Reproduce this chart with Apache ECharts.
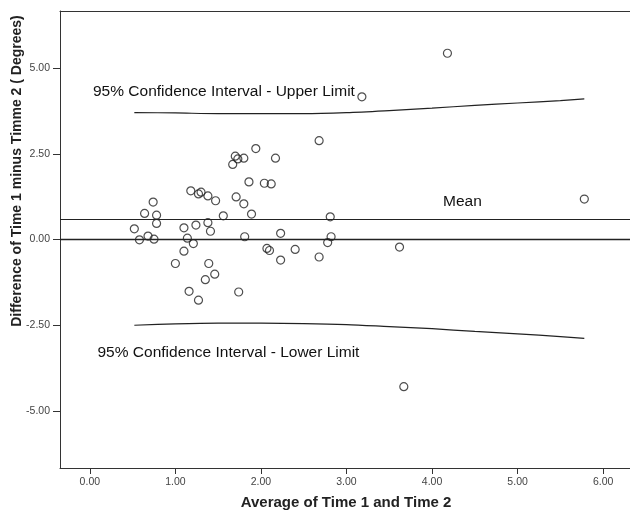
<!DOCTYPE html>
<html>
<head>
<meta charset="utf-8">
<script src="https://cdn.jsdelivr.net/npm/echarts@6/dist/echarts.min.js"></script>
<style>
html,body{margin:0;padding:0;background:#fff;}
#chart{width:630px;height:512px;}
</style>
</head>
<body>
<div id="chart"></div>
<script>
// Average of Time 1 and Time 2
const avgValues = [0.52,0.58,0.64,0.68,0.74,0.75,0.78,0.78,1.00,1.10,1.14,1.21,1.10,1.16,1.27,1.18,1.27,1.30,1.24,1.38,1.47,1.38,1.41,1.39,1.46,1.35,1.56,1.67,1.70,1.73,1.80,1.94,1.71,1.80,1.86,1.89,1.81,1.74,2.04,2.12,2.17,2.23,2.07,2.10,2.23,2.40,2.68,2.68,2.81,2.82,2.78,3.18,3.62,3.67,4.18,5.78];
// Difference of Time 1 minus Time 2
const diffValues = [0.31,-0.01,0.76,0.10,1.09,0.01,0.71,0.47,-0.70,0.34,0.04,-0.12,-0.34,-1.51,-1.77,1.42,1.33,1.38,0.42,1.27,1.13,0.49,0.24,-0.70,-1.01,-1.17,0.69,2.19,2.43,2.35,2.37,2.65,1.24,1.04,1.68,0.74,0.08,-1.53,1.64,1.62,2.37,0.18,-0.26,-0.32,-0.60,-0.29,2.88,-0.51,0.66,0.08,-0.09,4.16,-0.22,-4.29,5.43,1.18];
// Confidence interval curves
const ciX = [0.52,1.0,1.5,2.0,2.5,3.0,3.5,4.0,4.5,5.0,5.5,5.78];
const upperLimit = [3.70,3.69,3.67,3.67,3.67,3.70,3.76,3.83,3.91,3.98,4.05,4.10];
const lowerLimit = [-2.50,-2.46,-2.44,-2.44,-2.45,-2.48,-2.54,-2.60,-2.68,-2.75,-2.83,-2.88];
const meanDiff = 0.59;
const zeroLine = 0;
// Tick labels
const xTicks = [0,1,2,3,4,5,6];
const yTicks = [-5,-2.5,0,2.5,5];
const xTitle = 'Average of Time 1 and Time 2';
const yTitle = 'Difference of Time 1 minus Timme 2 ( Degrees)';
const upperLabel = '95% Confidence Interval - Upper Limit';
const lowerLabel = '95% Confidence Interval - Lower Limit';
const meanLabel = 'Mean';

const FONT = '"Liberation Sans", Arial, sans-serif';
const chart = echarts.init(document.getElementById('chart'), null, {renderer:'canvas'});

const scatterData = avgValues.map((x,i)=>[x, diffValues[i]]);
const upperData = ciX.map((x,i)=>[x, upperLimit[i]]);
const lowerData = ciX.map((x,i)=>[x, lowerLimit[i]]);
const XMIN = -0.3488, XMAX = 6.314;

chart.setOption({
  animation:false,
  backgroundColor:'#fff',
  grid:{left:60, top:11, right:-3, bottom:44, show:false, containLabel:false},
  xAxis:[{
    type:'value', min:XMIN, max:XMAX, position:'bottom',
    axisLine:{show:true, onZero:false, lineStyle:{color:'#333', width:1}},
    axisTick:{show:true, length:6, customValues:xTicks, lineStyle:{color:'#333'}},
    axisLabel:{customValues:xTicks, margin:9, fontSize:10.5, fontFamily:FONT, color:'#444', formatter:v=>v.toFixed(2)},
    splitLine:{show:false}
  },{
    type:'value', min:XMIN, max:XMAX, position:'top',
    axisLine:{show:true, onZero:false, lineStyle:{color:'#333', width:1}},
    axisTick:{show:false}, axisLabel:{show:false}, splitLine:{show:false}
  }],
  yAxis:{
    type:'value', min:-6.662, max:6.662,
    axisLine:{show:true, onZero:false, lineStyle:{color:'#333', width:1}},
    axisTick:{show:true, length:7, customValues:yTicks, lineStyle:{color:'#333'}},
    axisLabel:{customValues:yTicks, margin:10, fontSize:10.5, fontFamily:FONT, color:'#444', formatter:v=>v.toFixed(2)},
    splitLine:{show:false}
  },
  series:[
    {
      type:'line', data:upperData, smooth:0.3, symbol:'none',
      lineStyle:{color:'#222', width:1.2}, z:2
    },
    {
      type:'line', data:lowerData, smooth:0.3, symbol:'none',
      lineStyle:{color:'#222', width:1.2}, z:2
    },
    {
      type:'scatter', data:scatterData, symbol:'circle', symbolSize:8,
      itemStyle:{color:'rgba(255,255,255,0)', borderColor:'#222', borderWidth:1.2},
      z:3,
      markLine:{
        silent:true, symbol:'none', label:{show:false},
        lineStyle:{color:'#222', width:1, type:'solid'},
        data:[{yAxis:meanDiff},{yAxis:zeroLine, lineStyle:{width:1.3}}]
      }
    }
  ],
  graphic:[
    {type:'text', x:93, y:92, style:{text:upperLabel, font:'15.5px '+FONT, fill:'#111', textAlign:'left', textVerticalAlign:'middle'}},
    {type:'text', x:97.5, y:352.5, style:{text:lowerLabel, font:'15.5px '+FONT, fill:'#111', textAlign:'left', textVerticalAlign:'middle'}},
    {type:'text', x:443, y:201.5, style:{text:meanLabel, font:'15.5px '+FONT, fill:'#111', textAlign:'left', textVerticalAlign:'middle'}},
    {type:'text', x:346, y:503, style:{text:xTitle, font:'bold 15px '+FONT, fill:'#222', textAlign:'center', textVerticalAlign:'middle'}},
    {type:'text', x:17, y:171, rotation:Math.PI/2, style:{text:yTitle, font:'bold 14px '+FONT, fill:'#222', textAlign:'center', textVerticalAlign:'middle'}}
  ]
});
</script>
</body>
</html>
